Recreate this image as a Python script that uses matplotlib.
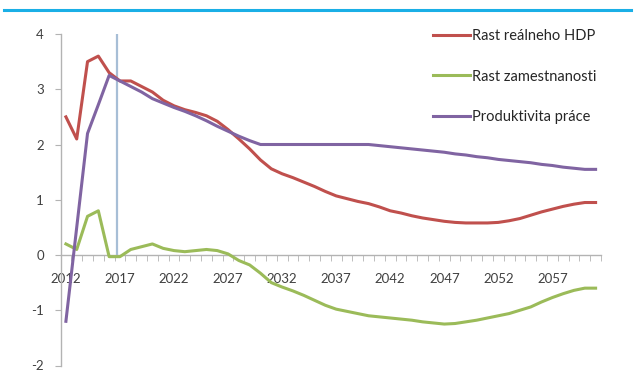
import matplotlib.pyplot as plt
import numpy as np
from matplotlib.lines import Line2D

COLOR_HDP = "#C0504D"
COLOR_ZAM = "#9BBB59"
COLOR_PROD = "#8064A2"
COLOR_AXIS = "#B3B3B3"
COLOR_TEXT = "#404040"

years = np.arange(2012, 2062)

rast_hdp = [
    2.5, 2.1, 3.5, 3.6, 3.3, 3.15, 3.15, 3.05, 2.95, 2.8,
    2.7, 2.63, 2.58, 2.52, 2.42, 2.27, 2.1, 1.92, 1.72, 1.56,
    1.47, 1.4, 1.32, 1.24, 1.15, 1.07, 1.02, 0.97, 0.93, 0.87,
    0.8, 0.76, 0.71, 0.67, 0.64, 0.61, 0.59, 0.58, 0.58, 0.58,
    0.59, 0.62, 0.66, 0.72, 0.78, 0.83, 0.88, 0.92, 0.95, 0.95,
]
rast_zam = [
    0.2, 0.1, 0.7, 0.8, -0.03, -0.03, 0.1, 0.15, 0.2, 0.12,
    0.08, 0.06, 0.08, 0.1, 0.08, 0.02, -0.1, -0.18, -0.33, -0.5,
    -0.58, -0.65, -0.73, -0.82, -0.91, -0.98, -1.02, -1.06, -1.1, -1.12,
    -1.14, -1.16, -1.18, -1.21, -1.23, -1.25, -1.24, -1.21, -1.18, -1.14,
    -1.1, -1.06, -1.0, -0.94, -0.85, -0.77, -0.7, -0.64, -0.6, -0.6,
]
produktivita = [
    -1.2, 0.5, 2.2, 2.72, 3.25, 3.15, 3.05, 2.95, 2.83, 2.75,
    2.67, 2.6, 2.52, 2.43, 2.33, 2.24, 2.15, 2.07, 2.0, 2.0,
    2.0, 2.0, 2.0, 2.0, 2.0, 2.0, 2.0, 2.0, 2.0, 1.98,
    1.96, 1.94, 1.92, 1.9, 1.88, 1.86, 1.83, 1.81, 1.78, 1.76,
    1.73, 1.71, 1.69, 1.67, 1.64, 1.62, 1.59, 1.57, 1.55, 1.55,
]
labels = ["Rast reálneho HDP", "Rast zamestnanosti", "Produktivita práce"]
label_years = np.arange(2012, 2058, 5)
y_ticks = [-2, -1, 0, 1, 2, 3, 4]
marker_year = 2016.7

plt.rcParams["font.family"] = ["Lato", "DejaVu Sans"]

fig = plt.figure(figsize=(6.35, 3.74), dpi=100)
ax = fig.add_axes([60.5 / 635, 1 - 365.5 / 374, 540.5 / 635, 331.5 / 374])

ax.plot(years, rast_hdp, color=COLOR_HDP, lw=2.2, label=labels[0], zorder=3)
ax.plot(years, rast_zam, color=COLOR_ZAM, lw=2.2, label=labels[1], zorder=3)
ax.plot(years, produktivita, color=COLOR_PROD, lw=2.2, label=labels[2], zorder=3)
ax.vlines(marker_year, -0.06, 4, color="#A7BED6", lw=1.6, zorder=2)

ax.set_xlim(2011.5, 2061.5)
ax.set_ylim(-2, 4)

for side in ("top", "right"):
    ax.spines[side].set_visible(False)
ax.spines["left"].set_color(COLOR_AXIS)
ax.spines["bottom"].set_color(COLOR_AXIS)
ax.spines["left"].set_linewidth(1.0)
ax.spines["bottom"].set_linewidth(1.0)
ax.spines["bottom"].set_position(("data", 0))

ax.set_yticks(y_ticks)
ax.set_yticklabels([str(v) for v in y_ticks])
ax.tick_params(axis="y", direction="out", length=4, color=COLOR_AXIS,
               labelsize=9.5, labelcolor=COLOR_TEXT, pad=8)

ax.set_xticks(label_years)
ax.set_xticklabels([str(y) for y in label_years])
ax.set_xticks(np.arange(2011.5, 2062, 1), minor=True)
ax.tick_params(axis="x", which="major", length=0, labelsize=9.5,
               labelcolor=COLOR_TEXT, pad=13)
ax.tick_params(axis="x", which="minor", direction="out", length=4,
               color=COLOR_AXIS)

leg = ax.legend(loc="upper right", bbox_to_anchor=(1.01, 1.045), frameon=False,
                fontsize=10.5, labelspacing=1.8, handlelength=2.5,
                handletextpad=0.15, borderaxespad=0.3)
for t in leg.get_texts():
    t.set_color("#262626")

fig.add_artist(Line2D([4 / 635, 631 / 635], [1 - 10 / 374, 1 - 10 / 374],
                      color="#1AAFE6", lw=2.2, transform=fig.transFigure))

fig.savefig("out.png", dpi=100, facecolor="white")
